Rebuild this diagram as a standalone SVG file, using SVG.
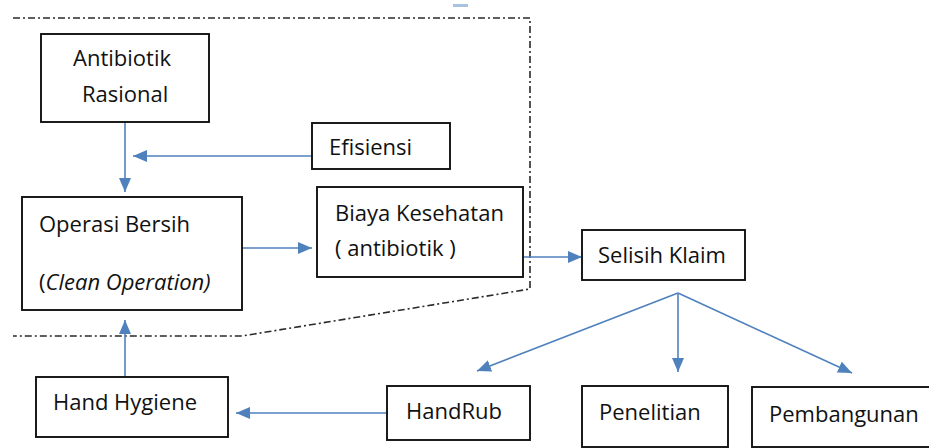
<svg xmlns="http://www.w3.org/2000/svg" width="929" height="448" viewBox="0 0 929 448">
<style>
.box{fill:#ffffff;stroke:#111111;stroke-width:1.9}
.t{font-family:"Open Sans","Noto Sans",sans-serif;font-size:22px;fill:#111111}
.c{stroke:#4f81bd;stroke-width:1.6;fill:none;marker-end:url(#ah)}
.bd{stroke:#2a2a2a;stroke-width:1.6;fill:none;stroke-dasharray:7 3 2 3}
</style>
<defs>
<marker id="ah" markerUnits="userSpaceOnUse" markerWidth="14" markerHeight="12" refX="14" refY="6" orient="auto">
<path d="M0,0 L14,6 L0,12 z" fill="#4f81bd"/>
</marker>
</defs>
<rect width="929" height="448" fill="#ffffff"/>
<rect x="453" y="4" width="15" height="3" fill="#a9c3df"/>
<path class="bd" d="M13,18 L530,18 L530,289 L242,336 L13,336"/>
<g id="connectors">
<path class="c" d="M125,122 L125,192"/>
<path class="c" d="M312,156 L133,156"/>
<path class="c" d="M242,248 L312,248"/>
<path class="c" d="M523,257 L582,257"/>
<path class="c" d="M125,377 L125,320"/>
<path class="c" d="M387,413 L236,413"/>
<path class="c" d="M678,293 L477,371"/>
<path class="c" d="M678,293 L678,372"/>
<path class="c" d="M678,293 L852,373"/>
</g>
<g id="antibiotik-rasional">
<rect class="box" x="41" y="34" width="168" height="88"/>
<text class="t" x="73" y="66">Antibiotik</text>
<text class="t" x="82" y="102">Rasional</text>
</g>
<g id="efisiensi">
<rect class="box" x="312" y="123" width="138" height="46"/>
<text class="t" x="329" y="155">Efisiensi</text>
</g>
<g id="operasi-bersih">
<rect class="box" x="22" y="197" width="220" height="113"/>
<text class="t" x="39" y="232">Operasi Bersih</text>
<text class="t" x="39" y="290">(<tspan font-style="italic">Clean Operation)</tspan></text>
</g>
<g id="biaya-kesehatan">
<rect class="box" x="317" y="187" width="206" height="90"/>
<text class="t" x="335" y="221">Biaya Kesehatan</text>
<text class="t" x="335" y="256">( antibiotik )</text>
</g>
<g id="selisih-klaim">
<rect class="box" x="582" y="230" width="163" height="50"/>
<text class="t" x="598" y="263">Selisih Klaim</text>
</g>
<g id="hand-hygiene">
<rect class="box" x="36" y="377" width="192" height="60"/>
<text class="t" x="53" y="410">Hand Hygiene</text>
</g>
<g id="handrub">
<rect class="box" x="387" y="386" width="143" height="54"/>
<text class="t" x="406" y="419">HandRub</text>
</g>
<g id="penelitian">
<rect class="box" x="582" y="386" width="146" height="61"/>
<text class="t" x="599" y="420">Penelitian</text>
</g>
<g id="pembangunan">
<rect class="box" x="752" y="387" width="180" height="60"/>
<text class="t" x="769" y="422">Pembangunan</text>
</g>
</svg>
